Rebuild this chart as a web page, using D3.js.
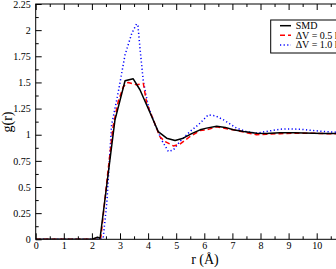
<!DOCTYPE html>
<html><head><meta charset="utf-8">
<script src="https://cdn.jsdelivr.net/npm/d3@7"></script>
<style>body{margin:0;background:#fff}svg{display:block}</style>
</head><body>
<svg id="c" width="336" height="269"></svg>
<script>
// data
const smdR = [0, 2.0, 2.2, 2.29, 2.82, 3.18, 3.47, 3.71, 4.07, 4.36, 4.66, 4.96, 5.25, 5.55, 5.85, 6.08, 6.44, 6.75, 7.03, 7.4, 7.86, 8.2, 8.69, 9.2, 9.88, 10.3, 11];
const smdG = [0, 0, 0.02, 0.01, 1.14, 1.516, 1.535, 1.43, 1.21, 1.03, 0.967, 0.944, 0.967, 1.01, 1.047, 1.063, 1.08, 1.07, 1.047, 1.03, 1.015, 1.012, 1.02, 1.02, 1.015, 1.012, 1.01];
const dv05R = [0, 2.25, 2.32, 2.55, 2.76, 2.94, 3.12, 3.29, 3.59, 3.83, 3.95, 4.19, 4.42, 4.6, 4.9, 5.13, 5.49, 5.85, 6.08, 6.44, 7.03, 7.5, 7.86, 8.2, 8.69, 9.2, 9.88, 10.3, 11];
const dv05G = [0, 0, 0.02, 0.6, 1.09, 1.32, 1.46, 1.50, 1.478, 1.49, 1.30, 1.14, 0.98, 0.935, 0.893, 0.91, 0.983, 1.04, 1.046, 1.075, 1.047, 1.02, 1.0, 1.005, 1.01, 1.015, 1.015, 1.01, 1.01];
const dv10R = [0, 2.3, 2.4, 2.53, 2.70, 2.94, 3.18, 3.42, 3.59, 3.64, 3.71, 3.83, 4.01, 4.25, 4.48, 4.72, 4.9, 5.13, 5.49, 5.79, 6.14, 6.4, 6.68, 7.15, 7.5, 7.86, 8.3, 8.69, 9.05, 9.5, 9.88, 10.3, 11];
const dv10G = [0, 0, 0.01, 0.345, 1.09, 1.41, 1.765, 1.97, 2.06, 2.04, 1.83, 1.51, 1.27, 1.095, 0.95, 0.84, 0.855, 0.935, 1.03, 1.095, 1.19, 1.18, 1.143, 1.063, 1.03, 1.015, 1.035, 1.053, 1.056, 1.05, 1.04, 1.03, 1.02];
const xTicks = [0, 1, 2, 3, 4, 5, 6, 7, 8, 9, 10];
const yTicks = [0, 0.25, 0.5, 0.75, 1, 1.25, 1.5, 1.75, 2, 2.25];
const yTickLabels = ["0", "0.25", "0.5", "0.75", "1", "1.25", "1.5", "1.75", "2", "2.25"];
const legendLabels = ["SMD", "\u0394V = 0.5 kcal/mol", "\u0394V = 1.0 kcal/mol"];

const svg = d3.select("#c");
const L = 35.7, T = 4, B = 239.3;
const x = d3.scaleLinear().domain([0, 11]).range([L, L + 11 * 28.1]);
const y = d3.scaleLinear().domain([0, 2.25]).range([B, T]);
const R = x(11);
const font = "'Liberation Serif','Times New Roman',serif";

svg.append("clipPath").attr("id", "pc").append("rect")
  .attr("x", L).attr("y", T).attr("width", R - L).attr("height", B - T);

const series = [
  {r: smdR, g: smdG, color: "#000", dash: null, w: 1.5},
  {r: dv05R, g: dv05G, color: "#ff0000", dash: "5,3", w: 1.5},
  {r: dv10R, g: dv10G, color: "#0000ff", dash: "1.2,2.4", w: 1.5}
];
const line = d3.line().x(d => x(d[0])).y(d => y(d[1]));
const gl = svg.append("g").attr("clip-path", "url(#pc)");
series.slice().reverse().forEach(s => {
  gl.append("path").datum(s.r.map((r, i) => [r, s.g[i]]))
    .attr("d", line).attr("fill", "none").attr("stroke", s.color)
    .attr("stroke-width", s.w).attr("stroke-dasharray", s.dash)
    .attr("stroke-linejoin", "round");
});

// frame
svg.append("rect").attr("x", L).attr("y", T).attr("width", R - L).attr("height", B - T)
  .attr("fill", "none").attr("stroke", "#000").attr("stroke-width", 1);

// axes with inward ticks
const minorX = d3.range(0.5, 11, 1);
const minorY = d3.range(0.125, 2.25, 0.25);
svg.append("g").attr("transform", `translate(0,${B})`)
  .call(d3.axisBottom(x).tickValues(xTicks).tickSizeInner(-6).tickSizeOuter(0).tickPadding(3).tickFormat(d3.format("d")));
svg.append("g").attr("transform", `translate(0,${B})`)
  .call(d3.axisBottom(x).tickValues(minorX).tickSizeInner(-3).tickSizeOuter(0).tickFormat(""));
svg.append("g").attr("transform", `translate(0,${T})`)
  .call(d3.axisTop(x).tickValues(xTicks).tickSizeInner(-6).tickSizeOuter(0).tickFormat(""));
svg.append("g").attr("transform", `translate(0,${T})`)
  .call(d3.axisTop(x).tickValues(minorX).tickSizeInner(-3).tickSizeOuter(0).tickFormat(""));
svg.append("g").attr("transform", `translate(${L},0)`)
  .call(d3.axisLeft(y).tickValues(yTicks).tickSizeInner(-6).tickSizeOuter(0).tickPadding(5)
    .tickFormat((d, i) => yTickLabels[i]));
svg.append("g").attr("transform", `translate(${L},0)`)
  .call(d3.axisLeft(y).tickValues(minorY).tickSizeInner(-3).tickSizeOuter(0).tickFormat(""));
svg.selectAll(".domain").remove();
svg.selectAll(".tick line").attr("stroke", "#000");
svg.selectAll(".tick text").attr("font-family", font).attr("font-size", 10).attr("fill", "#000");

// axis titles
svg.append("text").attr("x", 205).attr("y", 264).attr("text-anchor", "middle")
  .attr("font-family", font).attr("font-size", 14).text("r (\u00C5)");
svg.append("text").attr("transform", "translate(12,122) rotate(-90)").attr("text-anchor", "middle")
  .attr("font-family", font).attr("font-size", 14).text("g(r)");

// legend
const lg = svg.append("g");
lg.append("rect").attr("x", 270.7).attr("y", 20).attr("width", 110).attr("height", 33)
  .attr("fill", "#fff").attr("stroke", "#000").attr("stroke-width", 1);
series.forEach((s, i) => {
  const yy = 25.7 + i * 9.6;
  lg.append("line").attr("x1", 280).attr("x2", 291).attr("y1", yy).attr("y2", yy)
    .attr("stroke", s.color).attr("stroke-width", s.w).attr("stroke-dasharray", s.dash);
  lg.append("text").attr("x", 295.7).attr("y", yy + 3.3).attr("font-family", font)
    .attr("font-size", 10).text(legendLabels[i]);
});
</script>
</body></html>
